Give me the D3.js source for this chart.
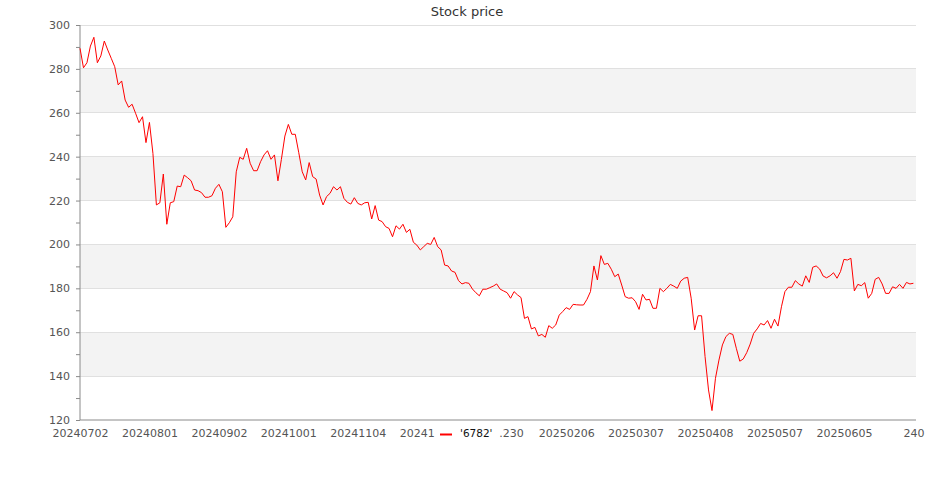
<!DOCTYPE html>
<html><head><meta charset="utf-8">
<script src="https://cdn.jsdelivr.net/npm/d3@7"></script>
<style>body{margin:0;background:#fff}svg{display:block}text{font-family:"DejaVu Sans",sans-serif}</style>
</head><body><svg id="c" width="935" height="500"></svg>
<script>
const title = "Stock price";
const seriesName = "'6782'";
const tickLabels = ["20240702","20240801","20240902","20241001","20241104","20241","\u200A.230","20250206","20250307","20250408","20250507","20250605","240"];
const tickEvery = 20;
const yTicks = [120,130,140,150,160,170,180,190,200,210,220,230,240,250,260,270,280,290,300];
const prices = [
289.4,280.5,282.8,290.4,294.4,282.8,285.9,292.7,288.6,284.8,
281,272.7,274.5,265.8,262.5,263.9,259.8,255.5,258.2,246.4,
255.6,241.5,218,219,232.1,209.2,219,219.5,226.6,226.3,
231.6,230.4,229,224.8,224.5,223.6,221.5,221.5,222.2,225.6,
227.4,224,207.8,209.9,212.6,233.1,239.7,238.8,243.8,237,
233.6,233.6,237.7,240.8,242.7,238.8,240.8,229,238.8,249.4,
254.7,250.2,250.2,241.8,233.1,229.4,237.3,230.9,229.8,222.5,
218,221.8,223.3,226.3,224.8,226.3,221,219.2,218.4,221.3,
218.7,218,219,219.2,211.6,217.7,211.1,210.4,208.1,207.3,
203.5,208.5,207,209.2,205.5,206.9,201,199.7,197.5,199,
200.5,200,203.2,199,197.5,190.6,190.2,187.9,187.3,183.5,
182,182.6,182.3,179.7,178,176.6,179.6,179.6,180.3,181,
182,179.6,178.8,178,175.5,178.5,177,175.8,166.3,167.1,
161.5,162.2,158.3,159,157.7,163,161.8,163.3,167.8,169.4,
171.2,170.4,172.7,172.5,172.4,172.4,175,178.5,190.2,183.8,
194.9,190.9,191.4,188.7,185.3,186.5,181.5,176.2,175.5,175.7,
173.9,170.4,177.3,174.7,175,170.9,170.9,180,178.5,180,
181.8,181,180,183.3,184.6,185,175.5,161,167.5,167.5,
148.9,133.7,124.3,139,147.3,154.2,158,159.5,159,152.7,
146.8,147.8,150.7,154.6,159.5,161.5,164,163.3,165.3,161.8,
165.9,162.8,171.6,178.5,180.5,180.5,183.5,182,181,185.7,
182.7,189.6,190.2,188.8,185.6,184.8,185.7,187.1,184.6,187.6,
193.2,192.9,193.7,178.8,181.8,181.2,182.6,175.5,177.7,184.1,
185,182,177.7,177.7,180.7,180,181.8,180,182.7,182,
182.3
];

const svg = d3.select("#c");
const pL = 80, pR = 916, pT = 25, pB = 420;
const x = d3.scaleLinear().domain([0, prices.length - 1]).range([pL, 913.4]);
const y = d3.scaleLinear().domain([120, 300]).range([pB, pT]);

// bands
const bands = yTicks.filter(v => v % 40 === 20 && v < 300);
svg.append("g").selectAll("rect").data(bands).join("rect")
  .attr("x", pL).attr("width", pR - pL)
  .attr("y", d => y(d + 20)).attr("height", d => y(d) - y(d + 20))
  .attr("fill", "#f3f3f3");
// grid
svg.append("g").selectAll("line").data(yTicks.filter(v => v % 20 === 0 && v > 120)).join("line")
  .attr("x1", pL).attr("x2", pR).attr("y1", d => y(d)).attr("y2", d => y(d))
  .attr("stroke", "#e0e0e0").attr("stroke-width", 1).attr("shape-rendering", "crispEdges");

// y axis
const ya = svg.append("g").attr("transform", `translate(${pL},0)`)
  .call(d3.axisLeft(y).tickValues(yTicks).tickSize(4).tickPadding(6)
    .tickFormat(d => d % 20 === 0 ? d : ""));
ya.select(".domain").attr("stroke", "#8a8a8a").attr("d", `M0,${pT}V${pB}`);
ya.selectAll(".tick line").attr("stroke", "#8a8a8a");
ya.selectAll(".tick text").attr("fill", "#555").style("font-size", "11px").style("font-family", "DejaVu Sans");

// x axis
const xa = svg.append("g").attr("transform", `translate(0,${pB})`)
  .call(d3.axisBottom(x).tickValues(tickLabels.map((_, i) => i * tickEvery)).tickSize(0).tickPadding(9)
    .tickFormat((d, i) => tickLabels[i]));
xa.select(".domain").attr("stroke", "#8a8a8a").attr("d", `M${pL},0H${pR}`);
xa.selectAll(".tick text").attr("fill", "#555").style("font-size", "11px").style("font-family", "DejaVu Sans");
// labels partly hidden behind the legend in the original: keep their visible parts in place
xa.selectAll(".tick text").filter((d, i) => i === 5).attr("text-anchor", "start").attr("dx", -28);
xa.selectAll(".tick text").filter((d, i) => i === 6).attr("text-anchor", "end").attr("dx", 26.5);

// line
svg.append("path").datum(prices)
  .attr("d", d3.line().x((d, i) => x(i)).y(d => y(d)))
  .attr("fill", "none").attr("stroke", "#ff0000").attr("stroke-width", 1).attr("stroke-linejoin", "round");

// title
svg.append("text").attr("x", 467).attr("y", 16).attr("text-anchor", "middle")
  .style("font-size", "13px").attr("fill", "#333").text(title);

// legend
const lg = svg.append("g").attr("transform", "translate(436,424)");
lg.append("line").attr("x1", 4).attr("x2", 16).attr("y1", 10.5).attr("y2", 10.5).attr("stroke", "#ff0000").attr("stroke-width", 2);
lg.append("text").attr("x", 24).attr("y", 13).style("font-size", "10.5px").attr("fill", "#111").text(seriesName);
</script></body></html>
